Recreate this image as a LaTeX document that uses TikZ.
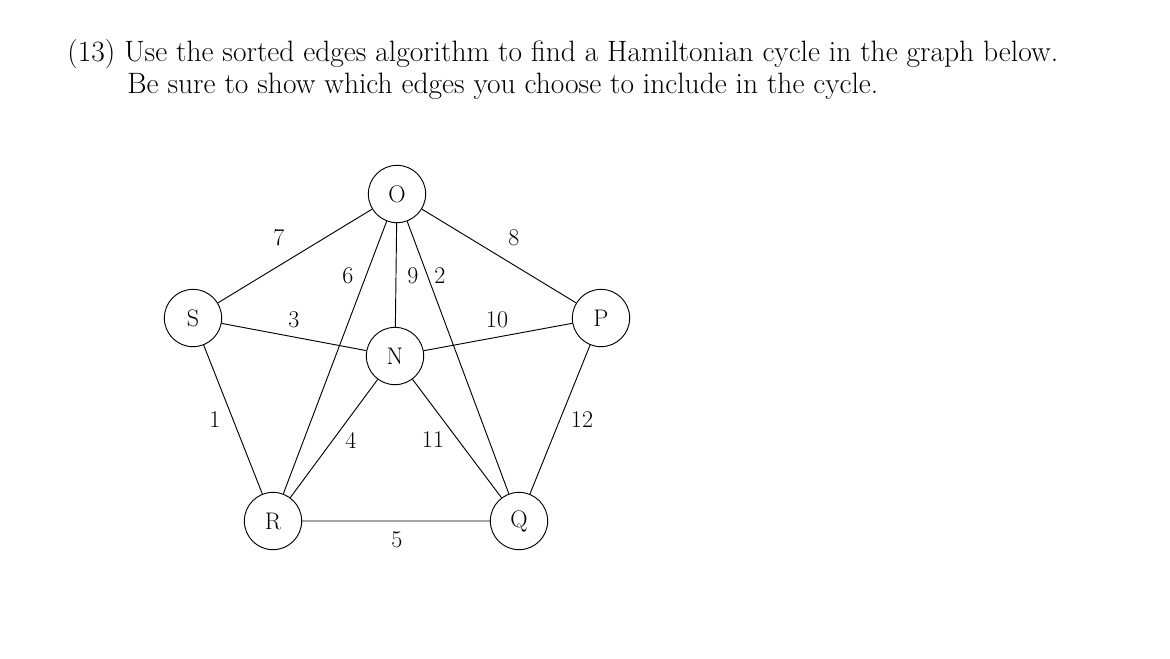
\documentclass[tikz,border=0pt]{standalone}
\begin{document}
\begin{tikzpicture}[x=0.75pt,y=-0.75pt,line width=0.7pt,
  vtx/.style={draw,circle,minimum size=43pt,inner sep=0pt,font=\fontsize{18}{21}\selectfont},
  lbl/.style={font=\fontsize{18}{21}\selectfont,inner sep=1pt},
  txt/.style={anchor=base west,inner sep=0pt,font=\fontsize{22.1}{26}\selectfont}]
\useasboundingbox (0,0) rectangle (1170,658);
\node[txt] (t1) at (67,61) {(13) Use the sorted edges algorithm to find a Hamiltonian cycle in the graph below.};
\node[txt] (t2) at (127,93) {Be sure to show which edges you choose to include in the cycle.};
\node[vtx] (O) at (397,194) {O};
\node[vtx] (S) at (193,318) {S};
\node[vtx] (P) at (601,318) {P};
\node[vtx] (N) at (395,356) {N};
\node[vtx] (R) at (273,521) {R};
\node[vtx] (Q) at (519,521) {Q};
\draw (S)--(O) (O)--(P) (S)--(N) (N)--(P) (S)--(R) (P)--(Q) (R)--(Q)
      (O)--(R) (O)--(N) (O)--(Q) (R)--(N) (N)--(Q);
\node[lbl] (l7) at (279,238) {7};
\node[lbl] (l8) at (514,238) {8};
\node[lbl] (l3) at (294,320) {3};
\node[lbl] (l10) at (497,320) {10};
\node[lbl] (l1) at (215,420) {1};
\node[lbl] (l12) at (582,420) {12};
\node[lbl] (l5) at (397,540) {5};
\node[lbl] (l6) at (348,276) {6};
\node[lbl] (l9) at (413,276) {9};
\node[lbl] (l2) at (440,276) {2};
\node[lbl] (l4) at (351,440) {4};
\node[lbl] (l11) at (433,440) {11};
\end{tikzpicture}
\end{document}
